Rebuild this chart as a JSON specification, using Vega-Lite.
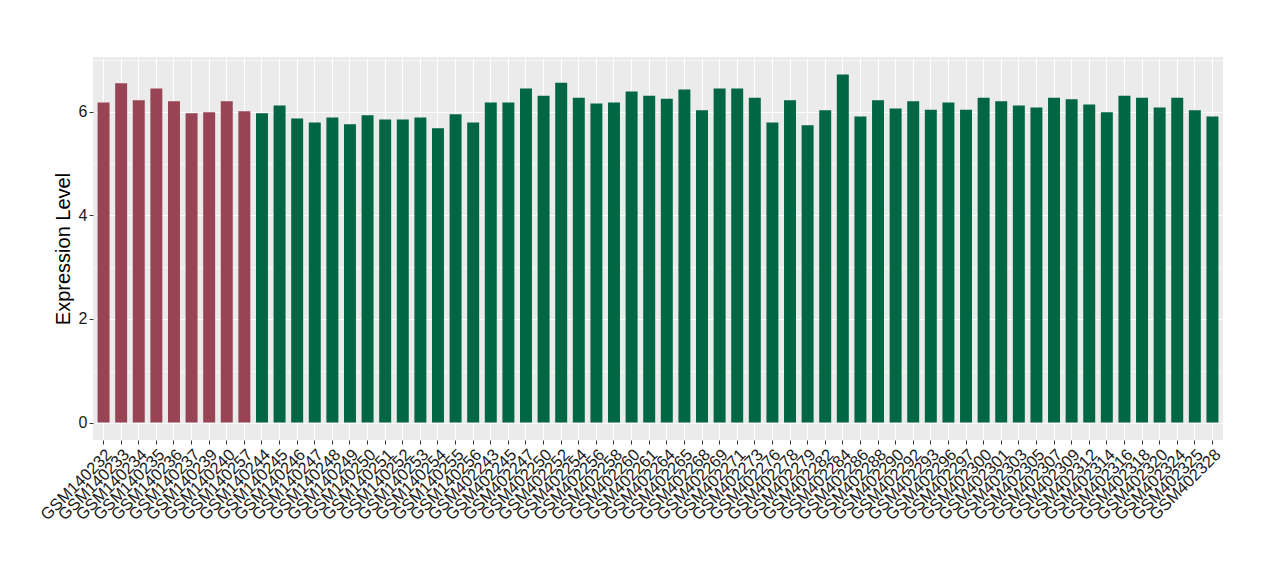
{
  "$schema": "https://vega.github.io/schema/vega-lite/v6.json",
  "width": 1130,
  "height": 383,
  "autosize": {"type": "none"},
  "padding": {"left": 93, "top": 57, "right": 57, "bottom": 140},
  "background": "white",
  "view": {"fill": "#EBEBEB", "stroke": null},
  "data": {
    "values": [
      {"sample": "GSM140232", "group": "A", "value": 6.18},
      {"sample": "GSM140233", "group": "A", "value": 6.55},
      {"sample": "GSM140234", "group": "A", "value": 6.22},
      {"sample": "GSM140235", "group": "A", "value": 6.45},
      {"sample": "GSM140236", "group": "A", "value": 6.2},
      {"sample": "GSM140237", "group": "A", "value": 5.97},
      {"sample": "GSM140239", "group": "A", "value": 5.99},
      {"sample": "GSM140240", "group": "A", "value": 6.2},
      {"sample": "GSM140257", "group": "A", "value": 6.01},
      {"sample": "GSM140244", "group": "B", "value": 5.97},
      {"sample": "GSM140245", "group": "B", "value": 6.12},
      {"sample": "GSM140246", "group": "B", "value": 5.87},
      {"sample": "GSM140247", "group": "B", "value": 5.79},
      {"sample": "GSM140248", "group": "B", "value": 5.89},
      {"sample": "GSM140249", "group": "B", "value": 5.76},
      {"sample": "GSM140250", "group": "B", "value": 5.93},
      {"sample": "GSM140251", "group": "B", "value": 5.85},
      {"sample": "GSM140252", "group": "B", "value": 5.85},
      {"sample": "GSM140253", "group": "B", "value": 5.89},
      {"sample": "GSM140254", "group": "B", "value": 5.68},
      {"sample": "GSM140255", "group": "B", "value": 5.95},
      {"sample": "GSM140256", "group": "B", "value": 5.79},
      {"sample": "GSM402243", "group": "B", "value": 6.18},
      {"sample": "GSM402245", "group": "B", "value": 6.18},
      {"sample": "GSM402247", "group": "B", "value": 6.45},
      {"sample": "GSM402250", "group": "B", "value": 6.31},
      {"sample": "GSM402252", "group": "B", "value": 6.56},
      {"sample": "GSM402254", "group": "B", "value": 6.27},
      {"sample": "GSM402256", "group": "B", "value": 6.16},
      {"sample": "GSM402258", "group": "B", "value": 6.18},
      {"sample": "GSM402260", "group": "B", "value": 6.39},
      {"sample": "GSM402261", "group": "B", "value": 6.31},
      {"sample": "GSM402264", "group": "B", "value": 6.25},
      {"sample": "GSM402265", "group": "B", "value": 6.43},
      {"sample": "GSM402268", "group": "B", "value": 6.03},
      {"sample": "GSM402269", "group": "B", "value": 6.45},
      {"sample": "GSM402271", "group": "B", "value": 6.45},
      {"sample": "GSM402273", "group": "B", "value": 6.27},
      {"sample": "GSM402276", "group": "B", "value": 5.79},
      {"sample": "GSM402278", "group": "B", "value": 6.22},
      {"sample": "GSM402279", "group": "B", "value": 5.74},
      {"sample": "GSM402282", "group": "B", "value": 6.03},
      {"sample": "GSM402284", "group": "B", "value": 6.72},
      {"sample": "GSM402286", "group": "B", "value": 5.91},
      {"sample": "GSM402288", "group": "B", "value": 6.22},
      {"sample": "GSM402290", "group": "B", "value": 6.06},
      {"sample": "GSM402292", "group": "B", "value": 6.2},
      {"sample": "GSM402293", "group": "B", "value": 6.04},
      {"sample": "GSM402296", "group": "B", "value": 6.18},
      {"sample": "GSM402297", "group": "B", "value": 6.04},
      {"sample": "GSM402300", "group": "B", "value": 6.27},
      {"sample": "GSM402301", "group": "B", "value": 6.2},
      {"sample": "GSM402303", "group": "B", "value": 6.12},
      {"sample": "GSM402305", "group": "B", "value": 6.08},
      {"sample": "GSM402307", "group": "B", "value": 6.27},
      {"sample": "GSM402309", "group": "B", "value": 6.24},
      {"sample": "GSM402312", "group": "B", "value": 6.14},
      {"sample": "GSM402314", "group": "B", "value": 5.99},
      {"sample": "GSM402316", "group": "B", "value": 6.31},
      {"sample": "GSM402318", "group": "B", "value": 6.27},
      {"sample": "GSM402320", "group": "B", "value": 6.08},
      {"sample": "GSM402324", "group": "B", "value": 6.27},
      {"sample": "GSM402325", "group": "B", "value": 6.03},
      {"sample": "GSM402328", "group": "B", "value": 5.91}
    ]
  },
  "mark": {"type": "bar"},
  "encoding": {
    "x": {
      "field": "sample",
      "type": "nominal",
      "sort": null,
      "scale": {"paddingInner": 0.32, "paddingOuter": 0.26},
      "axis": {
        "title": null,
        "labelAngle": -45,
        "labelAlign": "right",
        "labelBaseline": "top",
        "labelFont": "Liberation Sans",
        "labelFontSize": 16.5,
        "labelColor": "#1a1a1a",
        "labelPadding": 2,
        "labelOverlap": false,
        "labelBound": false,
        "tickColor": "#333333",
        "tickSize": 4,
        "domain": false,
        "grid": true,
        "gridColor": "#FFFFFF",
        "gridWidth": 1.1
      }
    },
    "y": {
      "field": "value",
      "type": "quantitative",
      "scale": {"domain": [-0.336, 7.056], "nice": false, "zero": false},
      "axis": {
        "title": "Expression Level",
        "titleFont": "Liberation Sans",
        "titleFontSize": 20,
        "titleFontWeight": "normal",
        "titleColor": "#000000",
        "titlePadding": 5,
        "values": [0, 1, 2, 3, 4, 5, 6, 7],
        "labelExpr": "datum.value % 2 == 0 ? datum.label : ''",
        "labelFont": "Liberation Sans",
        "labelFontSize": 16,
        "labelColor": "#1a1a1a",
        "labelPadding": 2,
        "tickColor": "#333333",
        "tickSize": 4,
        "tickOpacity": {"condition": {"test": "datum.value % 2 == 1", "value": 0}, "value": 1},
        "domain": false,
        "grid": true,
        "gridColor": "#FFFFFF",
        "gridWidth": {"condition": {"test": "datum.value % 2 == 1", "value": 0.55}, "value": 1.1}
      }
    },
    "color": {
      "field": "group",
      "type": "nominal",
      "scale": {"domain": ["A", "B"], "range": ["#994455", "#006644"]},
      "legend": null
    }
  }
}
